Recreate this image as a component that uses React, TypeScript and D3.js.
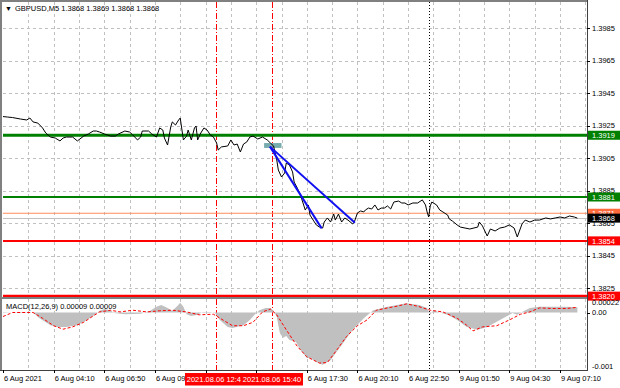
import React from 'react';
import * as d3 from 'd3';

const symbolTitle = 'GBPUSD,M5  1.3868 1.3869 1.3868 1.3868';
const macdTitle = 'MACD(12,26,9) 0.00009 0.00009';

const priceBar = [0,3,6,11,15,17,19,22,25,27,30,33,36,38,40,44,47,51,54,57,59,61,64,68,71,73,77,80,82,85,87,88,92,94,97,99,101,102,104,106,107,109,111,112,114,116,117,119,121,122,123,125,127,129,131,133,135,136,138,142,144,146,148,150,152,154,156,158,161,164,167,169,171,173,174,176,178,179,181,183,184,186,188,190,191,193,194,196,198,200,202,203,205,207,209,210,212,214,216,218,221,222,224,226,228,229,231,233,235,237,239,241,243,245,247,250,252,254,256,259,262,265,267,268,269,270,271,274,276,278,281,282,284,287,289,292,295,300,301,303,306,308,311,314,317,320,323,325,328,330,333,336,339,343,346,349,352,355,358,361,363];
const priceClose = [1.39305,1.39302,1.39299,1.3929,1.39284,1.39296,1.39272,1.39265,1.39235,1.39204,1.39179,1.39173,1.39155,1.39173,1.39179,1.39179,1.39155,1.39185,1.39198,1.39216,1.39216,1.3921,1.39198,1.39185,1.39185,1.39198,1.39216,1.3921,1.39192,1.39161,1.39179,1.39216,1.39216,1.39198,1.39179,1.39235,1.39222,1.39173,1.3913,1.39241,1.39272,1.39253,1.39284,1.39296,1.39161,1.39185,1.39222,1.39161,1.39235,1.39247,1.39161,1.39204,1.39235,1.39222,1.39192,1.39179,1.39142,1.39099,1.39118,1.39124,1.39161,1.3913,1.39136,1.39087,1.39136,1.39148,1.39179,1.39185,1.39167,1.39179,1.39161,1.39142,1.39124,1.39038,1.38976,1.38933,1.38958,1.39019,1.39007,1.38964,1.38902,1.38865,1.38822,1.38761,1.3873,1.38761,1.38699,1.38668,1.38638,1.38625,1.38619,1.38656,1.38681,1.38656,1.38705,1.38668,1.38705,1.38656,1.38681,1.38668,1.38644,1.38656,1.38712,1.38724,1.38718,1.3873,1.38742,1.38736,1.38761,1.3873,1.38742,1.38742,1.38755,1.38736,1.38779,1.38785,1.38773,1.38773,1.38761,1.38773,1.38773,1.38792,1.38761,1.38718,1.38687,1.38755,1.38779,1.38761,1.3873,1.38718,1.38699,1.38675,1.38662,1.38638,1.38625,1.38619,1.38613,1.38625,1.38656,1.38632,1.3857,1.38613,1.38601,1.38619,1.38625,1.38638,1.38619,1.38564,1.38644,1.38668,1.38656,1.38668,1.38668,1.38681,1.38675,1.38681,1.38687,1.38681,1.38693,1.38687,1.3868];

const macdBar = [0,11,19,23,30,34,40,47,53,58,61,64,68,70,77,87,93,97,100,104,107,110,112,114,116,119,123,126,131,134,137,142,145,152,156,159,162,166,169,171,173,175,177,179,181,185,188,192,194,198,202,207,211,215,221,228,234,243,249,255,263,268,270,272,276,281,287,293,300,306,312,318,322,325,328,333,339,347,356,363];
const macdMain = [-0.00001,0.00001,0,-0.0001,-0.00022,-0.00025,-0.00025,-0.00022,-0.00013,-0.00004,0.00003,0.00006,0.00004,-0.00001,-0.00003,-0.00002,0.00003,0.0001,0.00013,0.00008,0.00003,0.00011,0.00017,0.0001,-0.00003,-0.00006,-0.00004,0.00001,0.00001,-0.00001,-0.00013,-0.00025,-0.00027,-0.00022,-0.00013,-0.00004,0.00004,0.00008,0.00008,0.00003,-0.00008,-0.00036,-0.00044,-0.00041,-0.00048,-0.00051,-0.00065,-0.00079,-0.00079,-0.00086,-0.00091,-0.00083,-0.00068,-0.00053,-0.0003,-0.0001,0.00004,0.0001,0.00013,0.00016,0.00013,0.00008,-0.00004,0.00004,0,-0.00004,-0.00013,-0.00025,-0.0003,-0.00025,-0.00016,-0.00007,-0.00001,-0.00004,0.00001,0.00008,0.0001,0.0001,0.0001,0.00009];
const signalBar = [0,6,19,25,32,38,44,51,57,61,68,74,82,91,99,107,116,124,133,139,145,152,158,164,169,173,179,186,192,200,205,211,217,224,230,236,243,249,255,262,270,278,287,293,297,303,312,320,327,333,339,347,356,363];
const signalVals = [-0.00007,0,0,-0.0001,-0.00023,-0.00029,-0.00025,-0.00017,-0.00006,0.00001,0.00004,0.00001,0.00004,0.00001,0.00003,0.00004,0.00001,-0.00004,-0.00003,-0.00013,-0.00023,-0.00023,-0.00017,0.00001,0.00006,-0.00004,-0.0003,-0.00059,-0.00077,-0.00088,-0.00087,-0.00065,-0.00042,-0.00023,-0.00013,0.00004,0.00008,0.00011,0.00015,0.00011,0.00004,0.00001,-0.0001,-0.00022,-0.00032,-0.00025,-0.00023,-0.00013,-0.00003,0.00001,0.00008,0.00007,0.00007,0.00009];

const priceTicks = [1.3825,1.3845,1.3865,1.3885,1.3905,1.3925,1.3945,1.3965,1.3985];
const macdTicks = ['0.00022','0.00','-0.001'];
const timeTickBars = [0,32,64,96,128,160,192,224,256,288,320,352];
const timeTickLabels = ['6 Aug 2021','6 Aug 04:10','6 Aug 06:50','6 Aug 09:30','6 Aug 12:10','6 Aug 14:50','6 Aug 17:30','6 Aug 20:10','6 Aug 22:50','9 Aug 01:50','9 Aug 04:30','9 Aug 07:10'];

const levelPrices = [1.3919,1.3881,1.3871,1.3854,1.382];
const bidPrice = 1.3868;
const vLineBars = [134.6,170];
const vLineLabels = ['2021.08.06 12:40','2021.08.06 15:40'];
const separatorBar = 269.5;
const trendStart = [168.7,1.3912];
const trendEndBars = [201.4,222.4];
const trendEndPrices = [1.38617,1.38652];
const boxBars = [165,176];
const boxPrices = [1.39142,1.39112];

const FONT = "'Liberation Sans', Arial, sans-serif";

export default function App() {
  const L = 3, R = 587, T = 2, MB = 297, MT = 299, BB = 370;
  const x = d3.scaleLinear().domain([0,352]).range([3,560]);
  const y = d3.scaleLinear().domain([1.3825,1.3985]).range([288,28]);
  const ym = d3.scaleLinear().domain([-0.001,0.000235]).range([BB,MT]);

  const priceLine = d3.line<number>().x((_, i) => x(priceBar[i])).y(d => y(d))(priceClose) || '';
  const histArea = d3.area<number>().x((_, i) => x(macdBar[i])).y0(ym(0)).y1(d => ym(d))(macdMain) || '';
  const sigLine = d3.line<number>().x((_, i) => x(signalBar[i])).y(d => ym(d))(signalVals) || '';
  const gridBars = d3.range(16, 369, 16);

  const levelColors = ['#008000','#008000','#FF8C5A','#FF0000','#FF0000'];
  const levelWidths = [3,2,1,2,3];
  const boxFills = ['#008000','#008000','#FF6A3D','#FF0000','#FF0000'];

  const labelHalf = 31;
  const boxLeft = vLineBars.map(b => x(b) - labelHalf);
  const boxRight = vLineBars.map(b => x(b) + labelHalf);
  const visibleTimes = timeTickBars.map((b) => !vLineBars.some((_, k) => x(b) >= boxLeft[k] && x(b) <= boxRight[k]));
  const vx = (b: number) => Math.round(x(b)) + 0.5;

  return (
    <svg width={620} height={388} style={{position:'absolute',left:0,top:0,background:'#fff'}} fontFamily={FONT} fontSize={7.5}>
      <defs>
        <clipPath id="mainClip"><rect x={L} y={T} width={R-L} height={MB-T} /></clipPath>
        <clipPath id="macdClip"><rect x={L} y={MT} width={R-L} height={BB-MT} /></clipPath>
        <clipPath id="timeClip"><rect x={0} y={BB} width={boxLeft[0]} height={20} /><rect x={boxRight[1]} y={BB} width={620} height={20} /></clipPath>
        <clipPath id="firstLabelClip"><rect x={0} y={BB} width={boxLeft[1]} height={20} /></clipPath>
      </defs>
      <rect x={0} y={0} width={620} height={388} fill="#fff" />
      <g stroke="#c0c0c0" strokeWidth={1} strokeDasharray="3,3" shapeRendering="crispEdges">
        {priceTicks.map((p,i)=>(<line key={'h'+i} x1={L} x2={R} y1={Math.round(y(p))+0.5} y2={Math.round(y(p))+0.5} />))}
        {gridBars.map((b,i)=>(<line key={'v'+i} x1={vx(b)} x2={vx(b)} y1={T} y2={MB} />))}
        {gridBars.map((b,i)=>(<line key={'mv'+i} x1={vx(b)} x2={vx(b)} y1={MT} y2={BB} />))}
      </g>
      <g clipPath="url(#mainClip)">
        {vLineBars.map((b,i)=>(<line key={'rv'+i} x1={vx(b)} x2={vx(b)} y1={T} y2={MB} stroke="#ff0000" strokeWidth={1} strokeDasharray="6,2,1,2" shapeRendering="crispEdges" />))}
        <line x1={vx(separatorBar)} x2={vx(separatorBar)} y1={T} y2={MB} stroke="#000" strokeWidth={1} strokeDasharray="1,2" shapeRendering="crispEdges" />
        {levelPrices.map((p,i)=>(<line key={'lv'+i} x1={L} x2={R} y1={y(p)} y2={y(p)} stroke={levelColors[i]} strokeWidth={levelWidths[i]} />))}
        <line x1={L} x2={R} y1={Math.round(y(bidPrice))+0.5} y2={Math.round(y(bidPrice))+0.5} stroke="#c0c0c0" strokeWidth={1} />
        <rect x={x(boxBars[0])} y={y(boxPrices[0])} width={x(boxBars[1])-x(boxBars[0])} height={y(boxPrices[1])-y(boxPrices[0])} fill="#5f9ea0" opacity={0.85} />
        <path d={priceLine} fill="none" stroke="#000" strokeWidth={1} />
        {trendEndBars.map((b,i)=>(<line key={'tr'+i} x1={x(trendStart[0])} y1={y(trendStart[1])} x2={x(b)} y2={y(trendEndPrices[i])} stroke="#1010f0" strokeWidth={2} />))}
      </g>
      <g clipPath="url(#macdClip)">
        {vLineBars.map((b,i)=>(<line key={'mrv'+i} x1={vx(b)} x2={vx(b)} y1={MT} y2={BB} stroke="#ff0000" strokeWidth={1} strokeDasharray="6,2,1,2" shapeRendering="crispEdges" />))}
        <line x1={vx(separatorBar)} x2={vx(separatorBar)} y1={MT} y2={BB} stroke="#000" strokeWidth={1} strokeDasharray="1,2" shapeRendering="crispEdges" />
        <path d={histArea} fill="#c0c0c0" stroke="none" />
        <path d={sigLine} fill="none" stroke="#ff0000" strokeWidth={1} strokeDasharray="3,2" />
      </g>
      <g fill="none" shapeRendering="crispEdges">
        <line x1={1} x2={1} y1={0} y2={BB} stroke="#808080" strokeWidth={2} />
        <line x1={0} x2={R} y1={1} y2={1} stroke="#808080" strokeWidth={2} />
        <line x1={R+0.5} x2={R+0.5} y1={0} y2={BB+0.5} stroke="#404040" strokeWidth={1} />
        <line x1={0} x2={R} y1={MB+1} y2={MB+1} stroke="#808080" strokeWidth={2} />
        <line x1={0} x2={R} y1={BB+0.5} y2={BB+0.5} stroke="#404040" strokeWidth={1} />
      </g>
      <text x={5} y={10.5} fontSize={7} fill="#000">▼</text>
      <text x={15} y={10.5} fill="#000">{symbolTitle}</text>
      <text x={6} y={308.5} fill="#000">{macdTitle}</text>
      <g>
        {priceTicks.map((p,i)=>(
          <g key={'pt'+i}>
            <line x1={R} x2={R+3} y1={Math.round(y(p))+0.5} y2={Math.round(y(p))+0.5} stroke="#000" />
            <text x={592} y={y(p)+2.7} fill="#000">{p.toFixed(4)}</text>
          </g>
        ))}
        {levelPrices.map((p,i)=>(
          <g key={'lb'+i}>
            <rect x={588} y={y(p)-4.5} width={32} height={9} fill={boxFills[i]} />
            <text x={592} y={y(p)+2.7} fill="#fff">{p.toFixed(4)}</text>
          </g>
        ))}
        <rect x={588} y={y(bidPrice)-4.5} width={32} height={9} fill="#000" />
        <text x={592} y={y(bidPrice)+2.7} fill="#fff">{bidPrice.toFixed(4)}</text>
      </g>
      <g fill="#000">
        <line x1={R} x2={R+3} y1={Math.round(ym(0))+0.5} y2={Math.round(ym(0))+0.5} stroke="#000" />
        <text x={592} y={ym(0.00022)+5.5}>{macdTicks[0]}</text>
        <text x={592} y={ym(0)+2.7}>{macdTicks[1]}</text>
        <text x={592} y={ym(-0.001)-1.5}>{macdTicks[2]}</text>
      </g>
      <g fill="#000">
        {timeTickBars.map((b,i)=>(
          <line key={'tk'+i} x1={vx(b)} x2={vx(b)} y1={BB} y2={BB+3} stroke="#000" />
        ))}
        <g clipPath="url(#timeClip)">
          {timeTickBars.map((b,i)=> visibleTimes[i] ? (
            <text key={'tt'+i} x={x(b)+1} y={380.5}>{timeTickLabels[i]}</text>
          ) : null)}
        </g>
      </g>
      {vLineBars.map((b,i)=>(
        <g key={'vl'+i} clipPath={i === 0 ? 'url(#firstLabelClip)' : undefined}>
          <rect x={boxLeft[i]} y={373} width={labelHalf*2} height={12.5} fill="#ff0000" />
          <text x={x(b)} y={382} fill="#fff" textAnchor="middle">{vLineLabels[i]}</text>
        </g>
      ))}
    </svg>
  );
}
